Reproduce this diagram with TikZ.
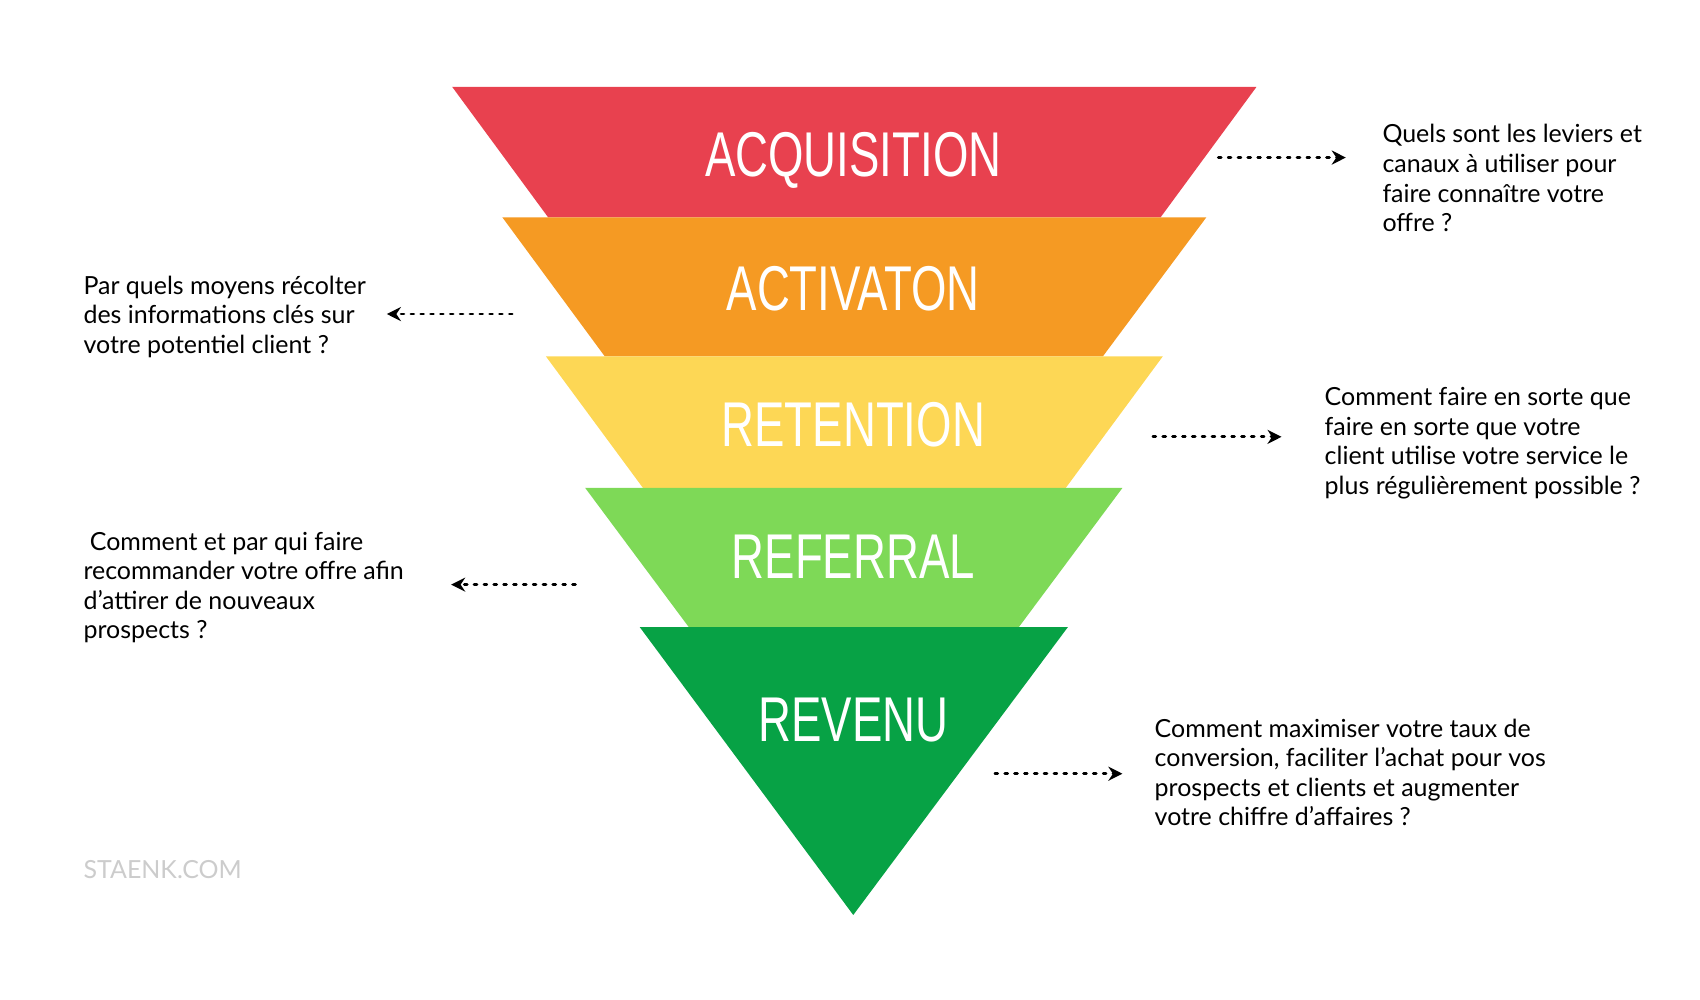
\documentclass[tikz,border=0pt]{standalone}
\usepackage{fontspec}
\setmainfont{Lato}
\newfontfamily\bandfont[FakeStretch=0.72]{Liberation Sans}
\usetikzlibrary{arrows.meta}
\definecolor{acqred}{HTML}{E8414F}
\definecolor{actorange}{HTML}{F59A23}
\definecolor{retyellow}{HTML}{FDD755}
\definecolor{refgreen}{HTML}{7ED957}
\definecolor{revgreen}{HTML}{07A245}
\tikzset{
	band/.style={draw=none},
	band label/.style={text=white,font=\bandfont\fontsize{18}{20}\selectfont},
	note/.style={anchor=north west,align=left,inner sep=0pt,font=\fontsize{7.1}{8.4}\selectfont},
	hint/.style={-{Stealth[length=4pt,width=4pt]},thick,dotted,line cap=round}
}

\begin{document}
\begin{tikzpicture}[x=0.010897cm,y=-0.010869cm]
	\useasboundingbox (0,0) rectangle (1560,920);
	% funnel bands
	\fill[band,acqred] (415,80) -- (1153,80) -- (1065,200) -- (503,200) -- cycle;
	\fill[band,actorange] (461,200) -- (1107,200) -- (1012,328) -- (555,328) -- cycle;
	\fill[band,retyellow] (501,328) -- (1067,328) -- (978,449) -- (590,449) -- cycle;
	\fill[band,refgreen] (537,449) -- (1030,449) -- (935,577) -- (632,577) -- cycle;
	\fill[band,revgreen] (587,577) -- (980,577) -- (783,842) -- cycle;
	\node[band label] (acq) at (783,148) {ACQUISITION};
	\node[band label] (act) at (783,266) {ACTIVATON};
	\node[band label] (ret) at (783,391) {RETENTION};
	\node[band label] (ref) at (783,512) {REFERRAL};
	\node[band label] (rev) at (783,663) {REVENU};
	% notes
	\node[note] (qacq) at (1268,114) {Quels sont les leviers et\\canaux à utiliser pour\\faire connaître votre\\offre ?};
	\node[note] (qact) at (76,253) {Par quels moyens récolter\\des informations clés sur\\votre potentiel client ?};
	\node[note] (qret) at (1215,356) {Comment faire en sorte que\\faire en sorte que votre\\client utilise votre service le\\plus régulièrement possible ?};
	\node[note] (qref) at (76,489) {\ Comment et par qui faire\\recommander votre offre afin\\d’attirer de nouveaux\\prospects ?};
	\node[note] (qrev) at (1059,661) {Comment maximiser votre taux de\\conversion, faciliter l’achat pour vos\\prospects et clients et augmenter\\votre chiffre d’affaires ?};
	\node[note,text=black!20] (site) at (76,791) {STAENK.COM};
	% dotted pointers
	\coordinate (a1) at (1118,145); \coordinate (b1) at (1235,145);
	\coordinate (a2) at (470,289); \coordinate (b2) at (355,289);
	\coordinate (a3) at (1058,402); \coordinate (b3) at (1176,402);
	\coordinate (a4) at (528,538); \coordinate (b4) at (414,538);
	\coordinate (a5) at (913,712); \coordinate (b5) at (1030,712);
	\foreach \i in {1,...,5}
		\draw[hint] (a\i) -- (b\i);
\end{tikzpicture}
\end{document}
